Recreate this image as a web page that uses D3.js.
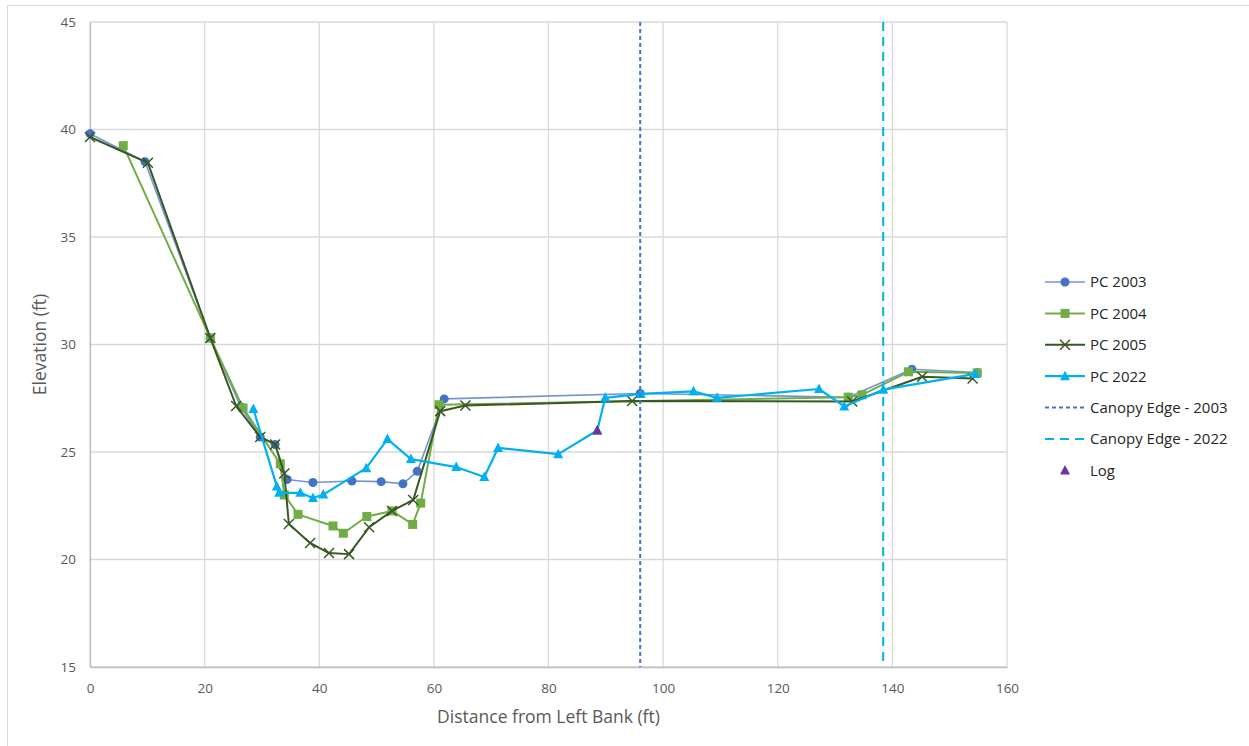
<!DOCTYPE html>
<html>
<head>
<meta charset="utf-8">
<script src="https://cdn.jsdelivr.net/npm/d3@7"></script>
<style>
  html, body { margin: 0; padding: 0; background: #fff; }
  svg { display: block; font-family: "Open Sans", "Liberation Sans", sans-serif; }
</style>
</head>
<body>
<svg id="chart" width="1249" height="746"></svg>
<script>
// Cross-section survey: distance (ft) and elevation (ft)
const pc2003X = [0, 9.6, 21, 26.3, 29.7, 32.3, 34.4, 38.9, 45.7, 50.8, 54.6, 57.1, 61.8, 96.0, 132.3, 143.4, 154.8];
const pc2003Y = [39.8, 38.5, 30.3, 27.1, 25.7, 25.35, 23.72, 23.58, 23.65, 23.62, 23.52, 24.1, 27.47, 27.72, 27.55, 28.85, 28.7];

const pc2004X = [5.8, 21, 26.7, 33.2, 33.9, 36.3, 42.4, 44.2, 48.3, 52.7, 56.3, 57.7, 60.9, 132.3, 134.7, 142.8, 154.8];
const pc2004Y = [39.25, 30.3, 27.05, 24.45, 23.0, 22.1, 21.56, 21.22, 22.0, 22.26, 21.63, 22.62, 27.2, 27.55, 27.66, 28.73, 28.68];

const pc2005X = [0, 10.1, 21, 25.5, 29.7, 32.3, 33.9, 34.7, 38.4, 41.7, 45.2, 48.7, 52.7, 56.4, 61.1, 65.5, 94.6, 133.0, 145.2, 154.0];
const pc2005Y = [39.65, 38.45, 30.3, 27.14, 25.7, 25.35, 24.0, 21.65, 20.77, 20.3, 20.25, 21.5, 22.26, 22.77, 26.9, 27.16, 27.37, 27.35, 28.5, 28.42];

const pc2022X = [28.5, 32.6, 33.0, 36.7, 38.9, 40.7, 48.2, 51.9, 56.0, 63.9, 68.8, 71.2, 81.7, 88.5, 89.9, 96.1, 105.3, 109.4, 127.2, 131.6, 138.4, 154.5];
const pc2022Y = [27.0, 23.4, 23.1, 23.1, 22.86, 23.02, 24.25, 25.6, 24.67, 24.3, 23.84, 25.19, 24.9, 26.0, 27.52, 27.7, 27.82, 27.52, 27.93, 27.12, 27.9, 28.63];

const canopy2003 = 96.0;
const canopy2022 = 138.4;
const logPoint = [88.5, 26.0];

const xTicks = [0, 20, 40, 60, 80, 100, 120, 140, 160];
const yTicks = [15, 20, 25, 30, 35, 40, 45];

const legendLabels = ["PC 2003", "PC 2004", "PC 2005", "PC 2022", "Canopy Edge - 2003", "Canopy Edge - 2022", "Log"];

const svg = d3.select("#chart");
const W = 1249, H = 746;

// chart frame (top and left edges)
svg.append("line").attr("x1", 7.5).attr("x2", W).attr("y1", 5.5).attr("y2", 5.5)
  .attr("stroke", "#d9d9d9").attr("stroke-width", 1);
svg.append("line").attr("x1", 7.5).attr("x2", 7.5).attr("y1", 5.5).attr("y2", H)
  .attr("stroke", "#d9d9d9").attr("stroke-width", 1);

const plot = { left: 90, top: 22, right: 1007, bottom: 667 };

const x = d3.scaleLinear().domain([0, 160]).range([plot.left, plot.right]);
const y = d3.scaleLinear().domain([15, 45]).range([plot.bottom, plot.top]);

// gridlines
const grid = svg.append("g");
grid.selectAll("line.gx").data(xTicks).join("line")
  .attr("x1", d => x(d)).attr("x2", d => x(d))
  .attr("y1", plot.top).attr("y2", plot.bottom)
  .attr("stroke", "#d9d9d9").attr("stroke-width", 1.3);
grid.selectAll("line.gy").data(yTicks).join("line")
  .attr("x1", plot.left).attr("x2", plot.right)
  .attr("y1", d => y(d)).attr("y2", d => y(d))
  .attr("stroke", "#d9d9d9").attr("stroke-width", 1.3);

// axes
const xAxis = svg.append("g")
  .attr("transform", `translate(0,${plot.bottom})`)
  .call(d3.axisBottom(x).tickValues(xTicks).tickSize(0).tickPadding(16));
const yAxis = svg.append("g")
  .attr("transform", `translate(${plot.left},0)`)
  .call(d3.axisLeft(y).tickValues(yTicks).tickSize(0).tickPadding(14));
[xAxis, yAxis].forEach(a => {
  a.select(".domain").attr("stroke", "#bfbfbf").attr("stroke-width", 1.3);
  a.selectAll("text").attr("fill", "#595959").style("font-size", "13.5px")
    .style("font-family", "'Open Sans', sans-serif");
});

// axis titles
svg.append("text")
  .attr("x", (plot.left + plot.right) / 2).attr("y", 723)
  .attr("text-anchor", "middle").attr("fill", "#595959")
  .style("font-size", "17.5px")
  .text("Distance from Left Bank (ft)");
svg.append("text")
  .attr("transform", `translate(46,${(plot.top + plot.bottom) / 2}) rotate(-90)`)
  .attr("text-anchor", "middle").attr("fill", "#595959")
  .style("font-size", "17.5px")
  .text("Elevation (ft)");

const line = d3.line().x(d => x(d[0])).y(d => y(d[1]));
const zip = (xs, ys) => xs.map((v, i) => [v, ys[i]]);

const series = [
  { name: "PC 2003", pts: zip(pc2003X, pc2003Y), line: "#7394d4", mark: "#4472C4", width: 1.6, shape: "circle" },
  { name: "PC 2004", pts: zip(pc2004X, pc2004Y), line: "#70AD47", mark: "#70AD47", width: 2, shape: "square" },
  { name: "PC 2005", pts: zip(pc2005X, pc2005Y), line: "#385723", mark: "#385723", width: 2, shape: "cross" },
  { name: "PC 2022", pts: zip(pc2022X, pc2022Y), line: "#00B0F0", mark: "#00B0F0", width: 2.2, shape: "triangle" }
];

function drawMarker(g, shape, color, cx, cy) {
  if (shape === "circle") {
    g.append("circle").attr("cx", cx).attr("cy", cy).attr("r", 4.5).attr("fill", color);
  } else if (shape === "square") {
    g.append("rect").attr("x", cx - 4.5).attr("y", cy - 4.5).attr("width", 9).attr("height", 9).attr("fill", color);
  } else if (shape === "cross") {
    g.append("path").attr("d", `M${cx - 5},${cy - 5}L${cx + 5},${cy + 5}M${cx - 5},${cy + 5}L${cx + 5},${cy - 5}`)
      .attr("stroke", color).attr("stroke-width", 1.5).attr("fill", "none");
  } else if (shape === "triangle") {
    g.append("path").attr("d", `M${cx},${cy - 5.5}L${cx + 5},${cy + 4}L${cx - 5},${cy + 4}Z`).attr("fill", color);
  }
}

const marks = svg.append("g");
series.forEach(s => {
  const g = marks.append("g");
  g.append("path").datum(s.pts).attr("d", line)
    .attr("fill", "none").attr("stroke", s.line).attr("stroke-width", s.width)
    .attr("stroke-linejoin", "round");
  s.pts.forEach(p => drawMarker(g, s.shape, s.mark, x(p[0]), y(p[1])));
});

// canopy edges
svg.append("line")
  .attr("x1", x(canopy2003)).attr("x2", x(canopy2003))
  .attr("y1", plot.top).attr("y2", plot.bottom)
  .attr("stroke", "#4472C4").attr("stroke-width", 2).attr("stroke-dasharray", "4,3");
svg.append("line")
  .attr("x1", x(canopy2022)).attr("x2", x(canopy2022))
  .attr("y1", plot.top).attr("y2", plot.bottom)
  .attr("stroke", "#00B0F0").attr("stroke-width", 2).attr("stroke-dasharray", "9,6");

// log
drawMarker(svg, "triangle", "#7030A0", x(logPoint[0]), y(logPoint[1]));

// legend
const legend = svg.append("g");
const lx0 = 1045, lx1 = 1085, ly0 = 282, lstep = 31.4;
legendLabels.forEach((lab, i) => {
  const ly = ly0 + i * lstep;
  const g = legend.append("g");
  if (i < 4) {
    const s = series[i];
    g.append("line").attr("x1", lx0).attr("x2", lx1).attr("y1", ly).attr("y2", ly)
      .attr("stroke", s.line).attr("stroke-width", s.width);
    drawMarker(g, s.shape, s.mark, (lx0 + lx1) / 2, ly);
  } else if (i === 4) {
    g.append("line").attr("x1", lx0).attr("x2", lx1).attr("y1", ly).attr("y2", ly)
      .attr("stroke", "#4472C4").attr("stroke-width", 2).attr("stroke-dasharray", "4,3");
  } else if (i === 5) {
    g.append("line").attr("x1", lx0).attr("x2", lx1).attr("y1", ly).attr("y2", ly)
      .attr("stroke", "#00B0F0").attr("stroke-width", 2).attr("stroke-dasharray", "9,6");
  } else {
    drawMarker(g, "triangle", "#7030A0", (lx0 + lx1) / 2, ly);
  }
  g.append("text").attr("x", 1090).attr("y", ly).attr("dy", "0.36em")
    .attr("fill", "#262626").style("font-size", "15px").text(lab);
});
</script>
</body>
</html>
